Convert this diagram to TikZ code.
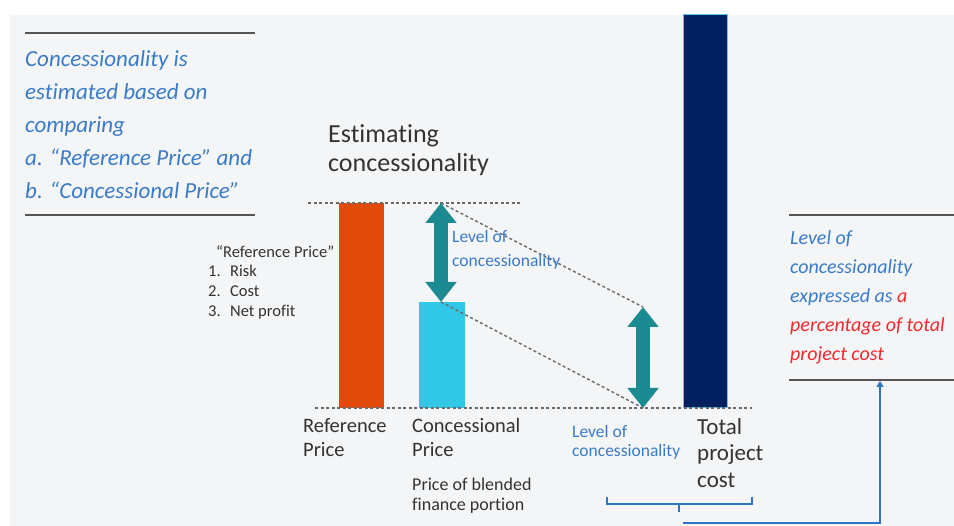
\documentclass[tikz,border=0pt]{standalone}
\usepackage{fontspec}
\setmainfont[Ligatures=NoCommon]{Carlito}
\usetikzlibrary{arrows.meta}
\definecolor{bgpanel}{HTML}{F4F5F6}
\definecolor{txtblue}{HTML}{3A7BC8}
\definecolor{txtred}{HTML}{EE2A2E}
\definecolor{txtdark}{HTML}{333333}
\definecolor{rulegray}{HTML}{555555}
\definecolor{barorange}{HTML}{E24A0A}
\definecolor{barcyan}{HTML}{30C8E6}
\definecolor{barnavy}{HTML}{002060}
\definecolor{baredge}{HTML}{5BC8EA}
\definecolor{arrteal}{HTML}{1B8A91}
\definecolor{dashgray}{HTML}{6A6A6A}
\definecolor{linkblue}{HTML}{2E75C6}
\tikzset{
  lbl/.style={inner sep=0pt, anchor=base west},
  bluei/.style={lbl, text=txtblue, font=\itshape\fontsize{23}{23}\selectfont},
  bluer/.style={lbl, text=txtblue, font=\itshape\fontsize{20}{20}\selectfont},
  redr/.style={lbl, text=txtred, font=\itshape\fontsize{20}{20}\selectfont},
  bluesm/.style={lbl, text=txtblue, font=\fontsize{17.5}{17.5}\selectfont},
  darkbig/.style={lbl, text=txtdark, font=\fontsize{26}{26}\selectfont},
  darkmid/.style={lbl, text=txtdark, font=\fontsize{20.5}{20.5}\selectfont},
  darktot/.style={lbl, text=txtdark, font=\fontsize{23}{23}\selectfont},
  darksm/.style={lbl, text=txtdark, font=\fontsize{18}{18}\selectfont},
  darklist/.style={lbl, text=txtdark, font=\fontsize{16.5}{16.5}\selectfont},
  rulel/.style={draw=rulegray, line width=1.5pt},
  dotl/.style={draw=dashgray, line width=1.4pt, dash pattern=on 3pt off 2.5pt},
  tealarrow/.style={draw=arrteal, line width=14pt,
    {Triangle[width=30pt,length=20pt]}-{Triangle[width=30pt,length=20pt]}},
  linkl/.style={draw=linkblue, line width=2pt},
}
\begin{document}
\begin{tikzpicture}[x=1pt,y=-1pt]
\useasboundingbox (0,0) rectangle (954,526);
\fill[white] (0,0) rectangle (954,526);
\fill[bgpanel] (10,15) rectangle (954,526);

% left explanatory box
\coordinate (lt1) at (25,33); \coordinate (lt2) at (255,33);
\coordinate (lb1) at (25,215); \coordinate (lb2) at (255,215);
\draw[rulel] (lt1) -- (lt2);
\draw[rulel] (lb1) -- (lb2);
\node[bluei] (l1) at (25,67) {Concessionality is};
\node[bluei] (l2) at (25,100) {estimated based on};
\node[bluei] (l3) at (25,133) {comparing};
\node[bluei] (l4) at (25,166) {a. ``Reference Price'' and};
\node[bluei] (l5) at (25,199) {b. ``Concessional Price''};

% title
\node[darkbig] (t1) at (328,143) {Estimating};
\node[darkbig] (t2) at (328,172) {concessionality};

% reference price list
\node[darklist] (rp) at (216,258) {``Reference Price''};
\node[darklist] (n1) at (208,277) {1.};
\node[darklist] (i1) at (230,277) {Risk};
\node[darklist] (n2) at (208,297) {2.};
\node[darklist] (i2) at (230,297) {Cost};
\node[darklist] (n3) at (208,317) {3.};
\node[darklist] (i3) at (230,317) {Net profit};

% bars
\fill[barorange] (339,203) rectangle (384,408);
\fill[barcyan] (419,302) rectangle (465,408);
\filldraw[fill=barnavy, draw=baredge, line width=1pt] (683,15) rectangle (727,408);

% reference lines
\coordinate (dt1) at (308,203); \coordinate (dt2) at (520,203);
\coordinate (db1) at (315,408); \coordinate (db2) at (752,408);
\draw[dotl] (dt1) -- (dt2);
\draw[dotl] (db1) -- (db2);

% arrows
\coordinate (a1t) at (441,203); \coordinate (a1b) at (441,302);
\coordinate (a2t) at (643,307); \coordinate (a2b) at (643,408);
\draw[dotl] (a1t) -- (a2t);
\draw[dotl] (a1b) -- (a2b);
\draw[tealarrow] (a1t) -- (a1b);
\draw[tealarrow] (a2t) -- (a2b);

\node[bluesm] (m1) at (452,243) {Level of};
\node[bluesm] (m2) at (452,267) {concessionality};

% bottom labels
\node[darkmid] (r1) at (303,433) {Reference};
\node[darkmid] (r2) at (303,457) {Price};
\node[darkmid] (c1) at (412,433) {Concessional};
\node[darkmid] (c2) at (412,457) {Price};
\node[darksm] (p1) at (412,491) {Price of blended};
\node[darksm] (p2) at (412,511) {finance portion};
\node[bluesm] (b1) at (572,438) {Level of};
\node[bluesm] (b2) at (572,457) {concessionality};
\node[darktot] (tp1) at (697,435) {Total};
\node[darktot] (tp2) at (697,461) {project};
\node[darktot] (tp3) at (697,488) {cost};

% brace and link
\coordinate (br1) at (607,497); \coordinate (br2) at (607,504);
\coordinate (br3) at (752,504); \coordinate (br4) at (752,497);
\coordinate (bm1) at (679,504); \coordinate (bm2) at (679,512);
\draw[linkl] (br1) -- (br2) -- (br3) -- (br4);
\draw[linkl] (bm1) -- (bm2);
\coordinate (k1) at (683,523); \coordinate (k2) at (880,523); \coordinate (k3) at (880,381);
\draw[linkl, -{Triangle[width=7pt,length=6pt]}] (k1) -- (k2) -- (k3);

% right explanatory box
\coordinate (rt1) at (789,215); \coordinate (rt2) at (954,215);
\coordinate (rb1) at (789,380); \coordinate (rb2) at (954,380);
\draw[rulel] (rt1) -- (rt2);
\draw[rulel] (rb1) -- (rb2);
\node[bluer] (q1) at (790,245) {Level of};
\node[bluer] (q2) at (790,274) {concessionality};
\node[bluer] (q3) at (790,303) {expressed as \textcolor{txtred}{a}};
\node[redr] (q4) at (790,332) {percentage of total};
\node[redr] (q5) at (790,361) {project cost};
\end{tikzpicture}
\end{document}
